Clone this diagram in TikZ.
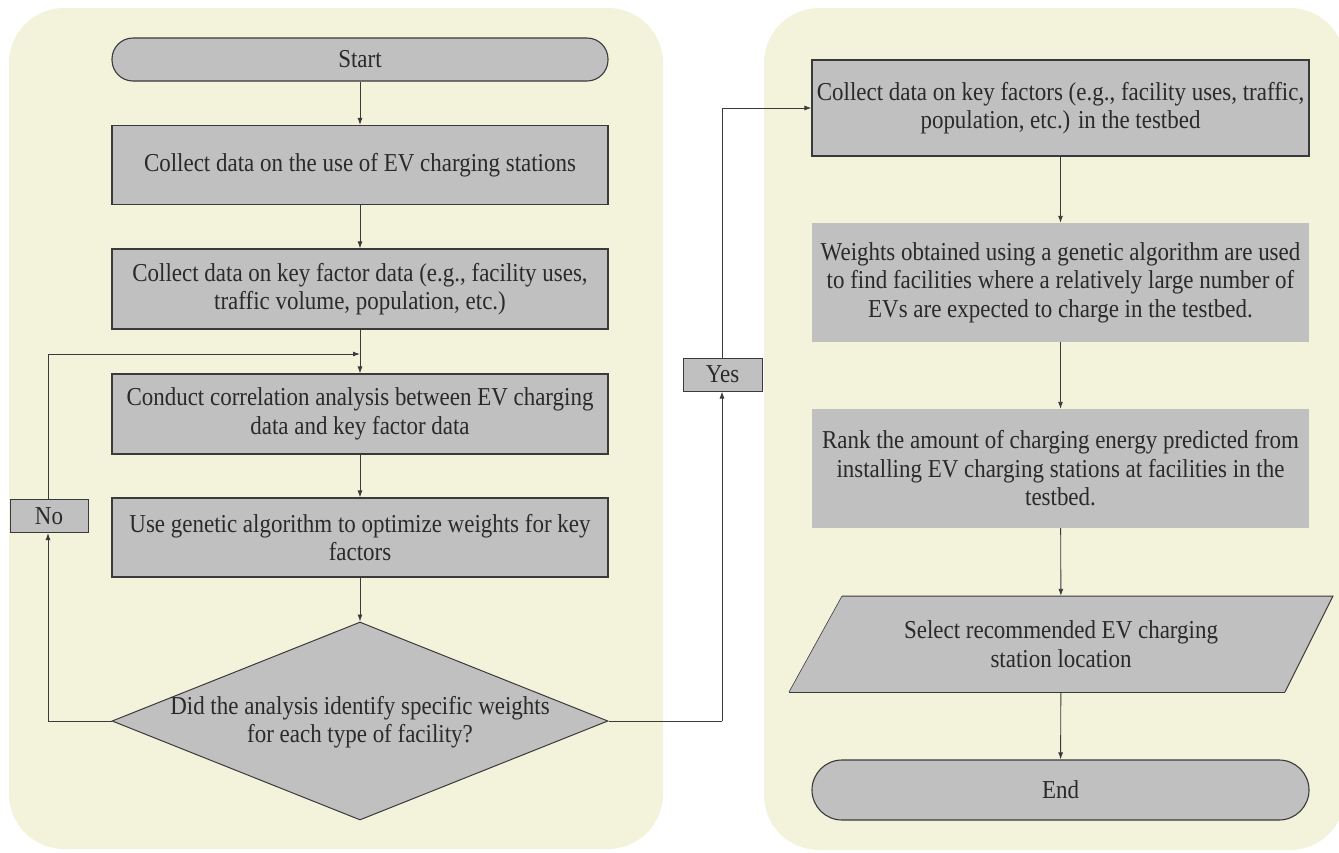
\documentclass[tikz,border=0pt]{standalone}
\usepackage{fontspec}
\setmainfont{Liberation Serif}
\newfontfamily\tms[FakeStretch=0.89]{Liberation Serif}
\usetikzlibrary{arrows.meta,shapes.geometric}
\definecolor{panel}{HTML}{F3F3DC}
\definecolor{boxgray}{HTML}{C0C0C0}
\definecolor{edge}{HTML}{3A3A3A}
\definecolor{txt}{HTML}{2A2A2A}
\tikzset{
  base/.style={fill=boxgray, inner sep=0pt, align=center, text=txt,
    font=\tms\fontsize{25.8}{28.5}\selectfont},
  stepbox/.style={base, draw=edge, line width=1.1pt, minimum width=496pt},
  plainbox/.style={base, minimum width=497pt},
  term/.style={stepbox, rounded corners=21pt},
  lbl/.style={base, draw=edge, line width=1pt},
  conn/.style={draw=edge, line width=0.9pt, -{Latex[length=7pt,width=5pt]}},
  wire/.style={draw=edge, line width=0.9pt},
}
\begin{document}
\begin{tikzpicture}[x=1pt,y=-1pt]
\useasboundingbox (0,0) rectangle (1339,852);
% panels
\fill[panel, rounded corners=55pt] (9,8) rectangle (663,849);
\fill[panel, rounded corners=55pt] (764,8) rectangle (1345,850);

% left column
\node[term, minimum height=43pt] (start) at (360,59.5) {Start};
\node[stepbox, minimum height=79pt] (b1) at (360,165) {Collect data on the use of EV charging stations};
\node[stepbox, minimum height=80pt] (b2) at (360,289) {Collect data on key factor data (e.g., facility uses,\\traffic volume, population, etc.)};
\node[stepbox, minimum height=80pt] (b3) at (360,414) {Conduct correlation analysis between EV charging\\data and key factor data};
\node[stepbox, minimum height=79pt] (b4) at (360,537.5) {Use genetic algorithm to optimize weights for key\\factors};
\node[diamond, draw=edge, fill=boxgray, line width=1pt, inner sep=0pt, minimum width=496pt, minimum height=198pt] (d) at (360,721) {};
\node[base, fill=none] (dtext) at (360,722) {Did the analysis identify specific weights\\for each type of facility?};

\node[lbl, minimum width=78pt, minimum height=33pt] (no) at (49,516) {No};
\node[lbl, minimum width=79pt, minimum height=33pt] (yes) at (722.5,374.5) {Yes};

% right column
\node[stepbox, minimum width=497pt, minimum height=96pt] (r1) at (1060.5,108) {Collect data on key factors (e.g., facility uses, traffic,\\population, etc.) in the testbed};
\node[plainbox, minimum height=119pt] (r2) at (1060.5,282.5) {Weights obtained using a genetic algorithm are used\\to find facilities where a relatively large number of\\EVs are expected to charge in the testbed.};
\node[plainbox, minimum height=119pt] (r3) at (1060.5,468.5) {Rank the amount of charging energy predicted from\\installing EV charging stations at facilities in the\\testbed.};
\fill[boxgray] (842,596) -- (1333,596) -- (1285,692) -- (789,692) -- cycle;
\draw[edge, line width=1pt] (842,596) -- (1333,596) -- (1285,692);
\draw[edge, line width=1pt] (789,692) -- (1285,692);
\draw[edge, line width=0.6pt] (789,692) -- (842,596);
\node[base, fill=none, minimum width=440pt, minimum height=96pt] (para) at (1061,644) {Select recommended EV charging\\station location};
\node[term, minimum width=497pt, minimum height=60pt, rounded corners=30pt] (end) at (1060.5,790) {End};

% connectors
\coordinate (loopin) at (360,354);
\coordinate (nocorner) at (48,721);
\coordinate (notop) at (48,354);
\coordinate (yescorner) at (722,721);
\coordinate (yestop) at (722,108);

\draw[conn] (start) -- (b1);
\draw[conn] (b1) -- (b2);
\draw[conn] (b2) -- (b3);
\draw[conn] (b3) -- (b4);
\draw[conn] (b4) -- (d.north);
\draw[wire] (d.west) -- (nocorner);
\draw[conn] (nocorner) -- (no.south -| nocorner);
\draw[conn] (no.north -| notop) -- (notop) -- (loopin);
\draw[wire] (d.east) -- (yescorner);
\draw[conn] (yescorner) -- (yes.south -| yescorner);
\draw[conn] (yes.north -| yestop) -- (yestop) -- (r1.west);
\draw[conn] (r1) -- (r2);
\draw[conn] (r2) -- (r3);
\draw[conn] (r3) -- (para);
\draw[conn] (para) -- (end);
\end{tikzpicture}
\end{document}
